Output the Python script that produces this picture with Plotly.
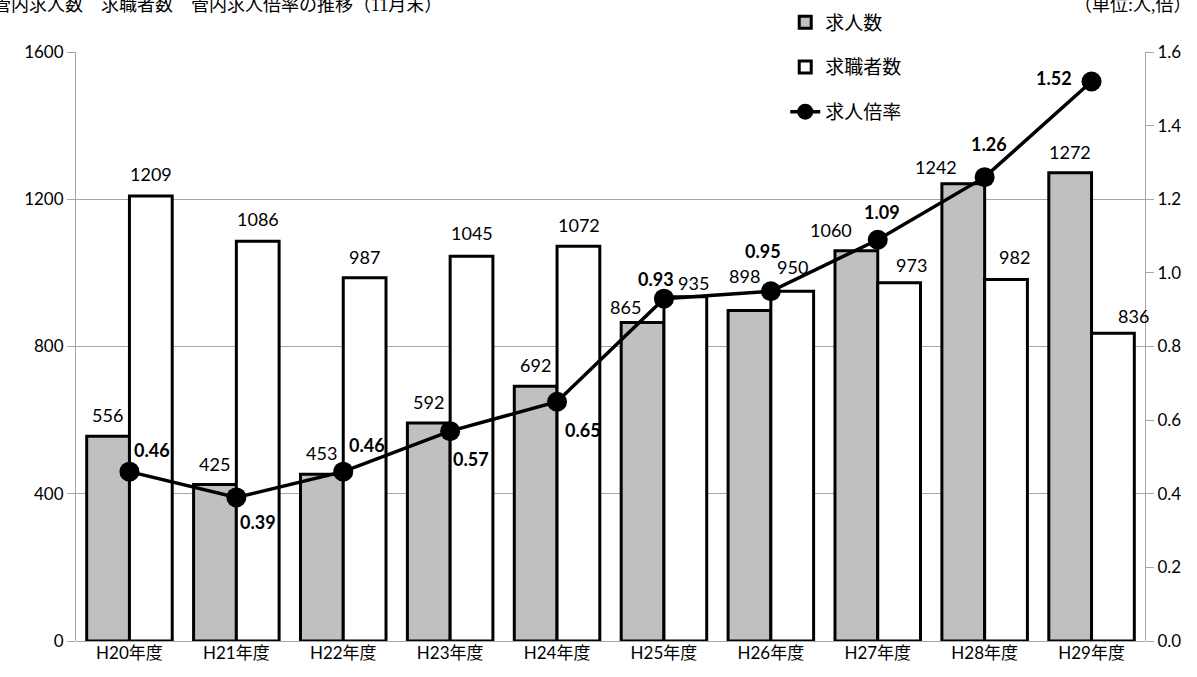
import plotly.graph_objects as go

categories = ["H20年度", "H21年度", "H22年度", "H23年度", "H24年度",
              "H25年度", "H26年度", "H27年度", "H28年度", "H29年度"]
job_offers = [556, 425, 453, 592, 692, 865, 898, 1060, 1242, 1272]
job_seekers = [1209, 1086, 987, 1045, 1072, 935, 950, 973, 982, 836]
ratio = [0.46, 0.39, 0.46, 0.57, 0.65, 0.93, 0.95, 1.09, 1.26, 1.52]
ratio_text = ["0.46", "0.39", "0.46", "0.57", "0.65", "0.93", "0.95", "1.09", "1.26", "1.52"]

# label offsets (pixels) for styling only
ratio_dx = [23, 22, 24, 21, 26, -8, -8, 4, 4, -38]
ratio_dy = [22, -25, 27, -28, -28, 20, 40, 28, 33, 3]
offer_dx = [0, 0, 0, 0, 0, -17, -5, -25, -27, 0]
offer_dy = [21, 21, 21, 21, 21, 16, 34, 21, 17, 21]
seek_dx = [0, 0, 0, 0, 0, 8, 0, 12, 8, 20]
seek_dy = [22, 22, 21, 23, 21, 14, 24, 18, 23, 17]

NUM_FONT = "Lato, Carlito, 'Noto Sans CJK JP', sans-serif"
JP_FONT = "Lato, 'Noto Sans CJK JP', sans-serif"
SERIF = "'Liberation Serif', 'Noto Sans CJK JP', serif"

fig = go.Figure()
fig.add_trace(go.Bar(
    x=categories, y=job_offers, name="求人数",
    marker=dict(color="#C0C0C0", line=dict(color="black", width=3)),
    legendgroup="a", offsetgroup="a",
))
fig.add_trace(go.Bar(
    x=categories, y=job_seekers, name="求職者数",
    marker=dict(color="white", line=dict(color="black", width=3)),
    legendgroup="b", offsetgroup="b",
))
fig.add_trace(go.Scatter(
    x=categories, y=ratio, name="求人倍率", yaxis="y2",
    mode="lines+markers",
    line=dict(color="black", width=3.5),
    marker=dict(color="black", size=20),
    legendgroup="c",
))

annotations = []
half = 21.5
for i, c in enumerate(categories):
    annotations.append(dict(
        x=c, y=job_offers[i], xref="x", yref="y", text=str(job_offers[i]),
        showarrow=False, xshift=-half + offer_dx[i], yshift=offer_dy[i],
        yanchor="middle", xanchor="center",
        font=dict(family=NUM_FONT, size=18, color="black")))
    annotations.append(dict(
        x=c, y=job_seekers[i], xref="x", yref="y", text=str(job_seekers[i]),
        showarrow=False, xshift=half + seek_dx[i], yshift=seek_dy[i],
        yanchor="middle", xanchor="center",
        font=dict(family=NUM_FONT, size=18, color="black")))
    annotations.append(dict(
        x=c, y=ratio[i], xref="x", yref="y2", text="<b>" + ratio_text[i] + "</b>",
        showarrow=False, xshift=ratio_dx[i], yshift=ratio_dy[i],
        yanchor="middle", xanchor="center",
        font=dict(family=NUM_FONT, size=18, color="black")))

annotations.append(dict(
    x=-0.0795, y=1.080, xref="paper", yref="paper", xanchor="left", yanchor="middle",
    text="管内求人数　求職者数　管内求人倍率の推移（11月末）", showarrow=False,
    font=dict(family=SERIF, size=18, color="black")))
annotations.append(dict(
    x=0.932, y=1.080, xref="paper", yref="paper", xanchor="left", yanchor="middle",
    text="（単位:人,倍）", showarrow=False,
    font=dict(family=SERIF, size=18, color="black")))

fig.update_layout(
    width=1197, height=677,
    margin=dict(l=76, r=52, t=52, b=36, autoexpand=False),
    paper_bgcolor="white", plot_bgcolor="white",
    barmode="group", bargap=0.2, bargroupgap=0,
    showlegend=True,
    legend=dict(
        x=0.656, y=0.995, xref="container", yref="container",
        xanchor="left", yanchor="top",
        bgcolor="rgba(0,0,0,0)", traceorder="grouped",
        tracegroupgap=17,
        font=dict(family=JP_FONT, size=19, color="black"),
        itemwidth=30,
    ),
    xaxis=dict(
        type="category", range=[-0.5, len(categories) - 0.5],
        showgrid=False, showline=False, ticks="",
        tickfont=dict(family=JP_FONT, size=17, color="black"),
    ),
    yaxis=dict(
        range=[0, 1600], dtick=400, showgrid=True, gridcolor="#A6A6A6", gridwidth=1,
        showline=True, linecolor="#A6A6A6", linewidth=1,
        ticks="outside", ticklen=8, tickcolor="#A6A6A6",
        zeroline=True, zerolinecolor="#A6A6A6", zerolinewidth=1,
        tickfont=dict(family=NUM_FONT, size=17, color="black"),
    ),
    yaxis2=dict(
        range=[0, 1.6], dtick=0.2, tickformat=".1f", overlaying="y", side="right",
        showgrid=False, showline=True, linecolor="#A6A6A6", linewidth=1,
        ticks="outside", ticklen=8, tickcolor="#A6A6A6", zeroline=False,
        tickfont=dict(family=NUM_FONT, size=17, color="black"),
    ),
    annotations=annotations,
)

fig.write_html("out.html", config={"displayModeBar": False},
               post_script="document.body.style.margin='0';document.body.style.overflow='hidden';")
